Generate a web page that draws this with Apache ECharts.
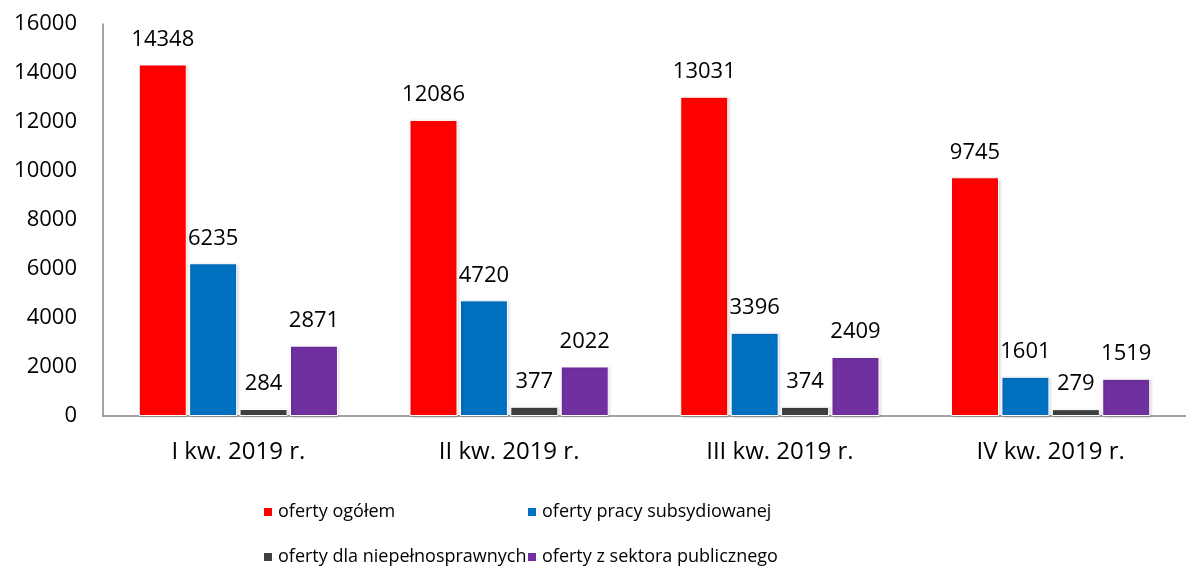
<!DOCTYPE html>
<html>
<head>
<meta charset="utf-8"/>
<script src="https://cdn.jsdelivr.net/npm/echarts@6/dist/echarts.min.js"></script>
<style>
  body{margin:0;background:#fff;}
  #chart{width:1186px;height:570px;}
</style>
</head>
<body>
<div id="chart"></div>
<script>
// quarters on the x axis
var kwartaly = ['I kw. 2019 r.', 'II kw. 2019 r.', 'III kw. 2019 r.', 'IV kw. 2019 r.'];
var nazwy = ['oferty ogółem', 'oferty pracy subsydiowanej', 'oferty dla niepełnosprawnych', 'oferty z sektora publicznego'];
var ogolem = [14348, 12086, 13031, 9745];
var subsydiowane = [6235, 4720, 3396, 1601];
var niepelnosprawni = [284, 377, 374, 279];
var publiczne = [2871, 2022, 2409, 1519];
var kolory = ['#FF0000', '#0070C0', '#404040', '#7030A0'];

var font = 'Open Sans';
var fs = 22;

var chart = echarts.init(document.getElementById('chart'));

function seria(i, dane){
  return {
    name: nazwy[i],
    type: 'bar',
    data: dane,
    barWidth: 48,
    barGap: '5%',
    itemStyle: {
      color: kolory[i],
      borderColor: '#fff',
      borderWidth: 1,
      shadowColor: 'rgba(0,0,0,0.18)',
      shadowBlur: 3,
      shadowOffsetX: 1,
      shadowOffsetY: 1
    },
    label: {
      show: true,
      position: 'top',
      distance: 14,
      color: '#000',
      fontFamily: font,
      fontSize: fs
    }
  };
}

function leg(i, l, t){
  return {
    data: [nazwy[i]],
    left: l, top: t,
    itemWidth: 10, itemHeight: 10,
    itemGap: 0,
    icon: 'rect',
    textStyle: {fontFamily: font, fontSize: 18, color: '#000'}
  };
}

chart.setOption({
  animation: false,
  grid: {left: 103, top: 24, width: 1094, height: 392},
  legend: [
    leg(0, 257, 498),
    leg(1, 521, 498),
    leg(2, 257, 543),
    leg(3, 521, 543)
  ],
  xAxis: {
    type: 'category',
    data: kwartaly,
    axisLine: {lineStyle: {color: '#868686', width: 1.5}},
    axisTick: {show: false},
    axisLabel: {color: '#000', fontFamily: font, fontSize: 24, margin: 24}
  },
  yAxis: {
    type: 'value',
    min: 0, max: 16000, interval: 2000,
    axisLine: {show: true, lineStyle: {color: '#868686', width: 1.5}},
    axisTick: {show: false},
    splitLine: {show: false},
    axisLabel: {color: '#000', fontFamily: font, fontSize: fs, margin: 26,
      formatter: function(v){ return String(v); }}
  },
  series: [
    seria(0, ogolem),
    seria(1, subsydiowane),
    seria(2, niepelnosprawni),
    seria(3, publiczne)
  ]
});
</script>
</body>
</html>
